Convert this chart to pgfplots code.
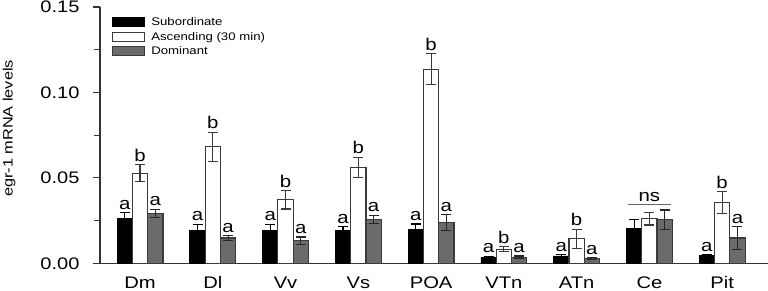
\documentclass[border=0pt]{standalone}
\usepackage{pgfplots}
\usepackage{pgfplotstable}
\usepackage{fontspec}
\setmainfont[FakeStretch=1.2]{Liberation Sans}
\pgfplotsset{compat=1.18}
\definecolor{axisc}{HTML}{333333}
\definecolor{domc}{HTML}{6B6B6B}
\definecolor{edgec}{HTML}{3A3A3A}
\pgfplotstableread{
x y e
0 0.0264 0.0032
1 0.0191 0.0037
2 0.0190 0.0039
3 0.0191 0.0022
4 0.0199 0.0031
5 0.0035 0.0006
6 0.0043 0.0006
7 0.0205 0.0049
8 0.0047 0.0005
}\sub
\pgfplotstableread{
x y e
0 0.0527 0.0049
1 0.0681 0.0086
2 0.0371 0.0053
3 0.0562 0.0059
4 0.1136 0.0090
5 0.0082 0.0014
6 0.0144 0.0055
7 0.0260 0.0036
8 0.0357 0.0063
}\asc
\pgfplotstableread{
x y e
0 0.0293 0.0023
1 0.0148 0.0014
2 0.0132 0.0022
3 0.0258 0.0023
4 0.0238 0.0045
5 0.0035 0.0008
6 0.0029 0.0005
7 0.0254 0.0058
8 0.0148 0.0065
}\dom
\pgfplotstableread{
x y l
-0.21 0.0296 a
0 0.0576 b
0.21 0.0316 a
0.79 0.0228 a
1 0.0767 b
1.21 0.0162 a
1.79 0.0229 a
2 0.0424 b
2.21 0.0154 a
2.79 0.0213 a
3 0.0621 b
3.21 0.0281 a
3.79 0.0230 a
4 0.1226 b
4.21 0.0283 a
4.79 0.0041 a
5 0.0096 b
5.21 0.0043 a
5.79 0.0049 a
6 0.0199 b
6.21 0.0034 a
7.79 0.0052 a
8 0.0420 b
8.21 0.0213 a
}\letters
\begin{document}
\begin{tikzpicture}
\useasboundingbox (-100pt,-27.7pt) rectangle (668pt,263.3pt);
\begin{axis}[
  at={(0,0)}, anchor=south west,
  scale only axis, width=668pt, height=256.3pt,
  xmin=-0.55, xmax=8.63, ymin=0, ymax=0.15,
  axis x line*=bottom, axis y line*=left,
  axis line style={color=axisc, line width=1.2pt},
  every tick/.style={color=axisc, line width=1.1pt},
  xtick={0,...,8},
  xticklabels={Dm,Dl,Vv,Vs,POA,VTn,ATn,Ce,Pit},
  major x tick style={draw=none},
  xticklabel style={font=\fontsize{16.8}{19}\selectfont, anchor=base, yshift=-18pt},
  ytick={0,0.05,0.10,0.15},
  minor ytick={0.025,0.075,0.125},
  tick align=outside,
  major tick length=7pt, minor tick length=6pt,
  ytick pos=left,
  yticklabel shift=10pt,
  yticklabel style={font=\fontsize{16.7}{19}\selectfont,
    /pgf/number format/.cd, fixed, fixed zerofill, precision=2, assume math mode=true},
  ylabel={egr-1 mRNA levels},
  ylabel style={font=\fontsize{13.6}{16}\selectfont, at={(axis description cs:-0.1362,0.526)}, anchor=center},
  legend style={at={(axis cs:-0.385,0.1445)}, anchor=north west, draw=none, fill=none,
    inner sep=0pt, font=\fontsize{11}{13}\selectfont, row sep=3pt,
    nodes={inner sep=1pt},
    /tikz/every odd column/.append style={column sep=5pt}},
  legend cell align=left,
  clip=false,
]
\addplot[ybar, bar width=15.3pt, bar shift=0pt, fill=black, draw=black, line width=0.8pt,
  legend image code/.code={\draw[fill=black, draw=black, line width=0.8pt] (0pt,-4.5pt) rectangle (32pt,4.5pt);},
  error bars/.cd, y dir=both, y explicit,
  error bar style={line width=1.1pt, color=black},
  error mark options={rotate=90, mark size=5pt, line width=1.1pt, color=black}]
  table[x expr=\thisrow{x}-0.21, y=y, y error=e] {\sub};
\addplot[ybar, bar width=15.3pt, bar shift=0pt, fill=white, draw=edgec, line width=1.1pt,
  legend image code/.code={\draw[fill=white, draw=edgec, line width=1.1pt] (0pt,-4.5pt) rectangle (32pt,4.5pt);},
  error bars/.cd, y dir=both, y explicit,
  error bar style={line width=1.1pt, color=edgec},
  error mark options={rotate=90, mark size=5pt, line width=1.1pt, color=edgec}]
  table[x=x, y=y, y error=e] {\asc};
\addplot[ybar, bar width=15.3pt, bar shift=0pt, fill=domc, draw=edgec, line width=1.1pt,
  legend image code/.code={\draw[fill=domc, draw=edgec, line width=1.1pt] (0pt,-4.5pt) rectangle (32pt,4.5pt);},
  error bars/.cd, y dir=both, y explicit,
  error bar style={line width=1.1pt, color=black!85},
  error mark options={rotate=90, mark size=5pt, line width=1.1pt, color=black!85}]
  table[x expr=\thisrow{x}+0.21, y=y, y error=e] {\dom};
\addplot[only marks, mark=none, forget plot, point meta=explicit symbolic,
  nodes near coords, nodes near coords style={anchor=south, inner sep=3pt, font=\fontsize{17}{19}\selectfont, text=black}]
  table[x=x, y=y, meta=l] {\letters};
\legend{Subordinate, Ascending (30 min), Dominant}
\draw[color=black!60, line width=1.1pt] (axis cs:6.71,0.0342) -- (axis cs:7.29,0.0342);
\node[anchor=south, inner sep=3pt, font=\fontsize{17}{19}\selectfont] at (axis cs:7,0.0342) {ns};
\end{axis}
\end{tikzpicture}
\end{document}
